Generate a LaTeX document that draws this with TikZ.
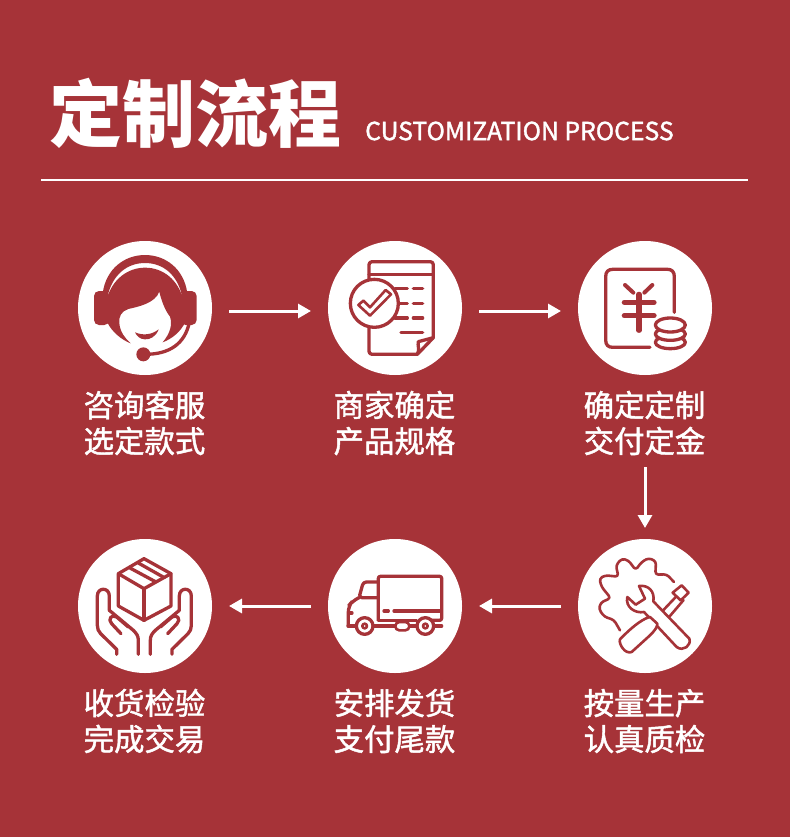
\documentclass[tikz,border=0pt]{standalone}
\usepackage{fontspec}
\setmainfont{Noto Sans CJK SC}[FakeBold=1.5]
\newfontfamily\titlefont{Noto Sans CJK SC}
\usetikzlibrary{arrows.meta}
\definecolor{bgred}{HTML}{A63338}
\tikzset{
  disc/.style={circle,fill=white,minimum size=134pt,inner sep=0pt,outer sep=0pt},
  lbl/.style={white,font=\fontsize{30.4}{36}\selectfont,align=center,inner sep=0pt},
  flow/.style={white,line width=3pt,-{Triangle[length=13pt,width=14pt]},shorten <=17pt,shorten >=17pt},
  ic/.style={draw=bgred,line width=3.3pt,line cap=round,line join=round},
  thin ic/.style={ic,line width=2.6pt}
}
\begin{document}
\begin{tikzpicture}[x=1pt,y=-1pt]
\fill[bgred] (0,0) rectangle (790,837);
\useasboundingbox (0,0) rectangle (790,837);
\node[white,anchor=center,inner sep=0pt,font=\titlefont\bfseries\fontsize{73}{73}\selectfont] (title) at (195,113) {定制流程};
\node[white,anchor=west,inner sep=0pt,font=\fontsize{24.75}{25}\selectfont] (sub) at (365,131) {CUSTOMIZATION PROCESS};
\coordinate (ruleL) at (41,180);
\coordinate (ruleR) at (748,180);
\draw[white,line width=1.3pt] (ruleL) -- (ruleR);

\node[disc] (c1) at (145,308) {};
\node[disc] (c2) at (395,308) {};
\node[disc] (c3) at (645,308) {};
\node[disc] (c4) at (145,606) {};
\node[disc] (c5) at (395,606) {};
\node[disc] (c6) at (645,606) {};

\node[lbl] (t1) at (144.5,423) {咨询客服\\选定款式};
\node[lbl] (t2) at (394.5,423) {商家确定\\产品规格};
\node[lbl] (t3) at (644.5,423) {确定定制\\交付定金};
\node[lbl] (t4) at (144.5,721) {收货检验\\完成交易};
\node[lbl] (t5) at (394.5,721) {安排发货\\支付尾款};
\node[lbl] (t6) at (644.5,721) {按量生产\\认真质检};

\draw[flow] ([yshift=-3pt]c1.east) -- ([yshift=-3pt]c2.west);
\draw[flow] ([yshift=-3pt]c2.east) -- ([yshift=-3pt]c3.west);
\draw[flow,shorten <=92pt,shorten >=11pt] (c3.south) -- (c6.north);
\draw[flow] (c6.west) -- (c5.east);
\draw[flow] (c5.west) -- (c4.east);

% icon 1 headset
\begin{scope}[shift={(70,235)},x=0.33333pt,y=-0.33333pt]
\fill[bgred] (98,175) .. controls (108,100) and (165,60) .. (225,60) .. controls (285,60) and (342,100) .. (352,175) -- (336,182) .. controls (322,120) and (280,84) .. (225,84) .. controls (170,84) and (128,120) .. (113,182) -- cycle;
\fill[bgred] (110,195) .. controls (125,132) and (175,98) .. (225,98) .. controls (280,98) and (325,135) .. (340,195) -- (345,262) .. controls (333,290) and (305,312) .. (278,322) .. controls (300,295) and (308,270) .. (300,245) .. controls (285,225) and (275,200) .. (268,170) .. controls (255,205) and (205,215) .. (175,222) .. controls (155,228) and (145,245) .. (148,265) .. controls (150,290) and (165,310) .. (182,325) .. controls (155,315) and (125,290) .. (112,262) -- cycle;
\fill[bgred,rounded corners=5pt] (72,168) -- (118,168) -- (118,270) -- (72,270) -- cycle;
\fill[bgred,rounded corners=5pt] (332,168) -- (380,168) -- (380,270) -- (332,270) -- cycle;
\draw[bgred,line width=3.3pt] (358,262) .. controls (345,325) and (300,358) .. (225,358);
\fill[bgred] (220,358) circle (21);
\fill[bgred] (195,292) .. controls (218,302) and (245,300) .. (266,283) .. controls (258,305) and (240,314) .. (225,313) .. controls (210,313) and (200,303) .. (195,292) -- cycle;
\end{scope}

% icon 2 document
\begin{scope}[shift={(320,235)},x=0.33333pt,y=-0.33333pt]
\draw[ic,rounded corners=3pt] (340,308) -- (340,80) -- (147,80) -- (147,358) -- (292,358);
\draw[ic] (147,118) -- (340,118);
\draw[ic] (340,308) -- (292,358);
\draw[ic] (292,358) .. controls (300,345) and (292,330) .. (295,320) -- (340,308);
\foreach \yy/\xa in {161/225,205/240,249/225} {
  \draw[ic] (\xa,\yy) -- (262,\yy);
  \draw[ic] (280,\yy) -- (308,\yy);
}
\draw[ic] (243,293) -- (308,293);
\draw[ic,fill=white] (163,205) circle (72);
\draw[thin ic] (115,210) -- (130,197) -- (150,217) -- (197,165) -- (213,178) -- (150,242) -- cycle;
\end{scope}

% icon 3 yen
\begin{scope}[shift={(570,235)},x=0.33333pt,y=-0.33333pt]
\draw[ic] (313,232) -- (313,125) .. controls (313,110) and (305,103) .. (293,103) -- (128,103) .. controls (115,103) and (107,110) .. (107,125) -- (107,315) .. controls (107,330) and (115,337) .. (128,337) -- (240,337);
\draw[ic,line width=4pt] (165,150) -- (190,173);
\draw[ic,line width=4pt] (247,150) -- (223,173);
\draw[ic,line width=5.2pt] (163,202) -- (252,202);
\draw[ic,line width=5.2pt] (163,242) -- (252,242);
\draw[ic,line width=5.2pt] (207,178) -- (207,286);
\draw[ic,fill=white] (301,322) ellipse [x radius=45,y radius=19];
\draw[ic,fill=white] (301,297) ellipse [x radius=45,y radius=19];
\draw[ic,fill=white] (301,270) ellipse [x radius=45,y radius=21];
\end{scope}

% icon 4 box in hands
\begin{scope}[shift={(70,532)},x=0.33333pt,y=-0.33333pt]
\draw[ic] (222,80) -- (303,125) -- (303,222) -- (222,265) -- (145,222) -- (145,125) -- cycle;
\draw[ic] (145,125) -- (222,170) -- (303,125);
\draw[ic] (222,170) -- (222,265);
\draw[ic] (180,108) -- (258,150);
\draw[ic] (205,93) -- (283,137);
\foreach \sx/\off in {1/0,-1/446} {
\begin{scope}[shift={(\off,0)},xscale=\sx]
\draw[ic] (140,367) -- (140,352) -- (92,305) .. controls (85,298) and (82,290) .. (82,280) -- (82,192) .. controls (82,165) and (118,165) .. (118,192) -- (118,235) -- (190,295) .. controls (200,305) and (205,312) .. (205,325) -- (205,367);
\draw[ic] (153,305) -- (125,275) .. controls (112,262) and (125,245) .. (140,255) -- (175,285);
\end{scope}
}
\end{scope}

% icon 5 truck
\begin{scope}[shift={(320,532)},x=0.33333pt,y=-0.33333pt]
\draw[ic,rounded corners=2pt] (175,265) -- (175,133) -- (365,133) -- (365,265) -- (305,265);
\draw[ic] (175,265) -- (290,265);
\draw[ic] (222,237) -- (360,237);
\draw[ic] (192,237) -- (205,237);
\draw[ic,rounded corners=3pt] (172,150) -- (130,150) -- (117,197) -- (172,197);
\draw[ic,rounded corners=6pt] (117,197) -- (98,207) -- (85,222) -- (85,282);
\draw[ic] (84,282) -- (108,282);
\draw[ic] (160,282) -- (226,282);
\draw[ic] (267,282) -- (290,282);
\draw[ic] (343,282) -- (365,282);
\draw[ic] (88,243) -- (96,243);
\draw[ic,fill=white] (134,282) circle (25);
\draw[ic,fill=white] (316,282) circle (25);
\draw[thin ic] (134,282) circle (7);
\draw[thin ic] (316,282) circle (7);
\draw[thin ic,fill=white,rounded corners=4pt] (226,270) rectangle (268,295);
\end{scope}

% icon 6 tools
\begin{scope}[shift={(570,532)},x=0.33333pt,y=-0.33333pt]
\draw[thin ic,rounded corners=3pt] (150,295) -- (132,264) -- (103,254) -- (87,232) -- (92,212) -- (122,198) -- (95,165) -- (88,140) -- (106,130) -- (145,134) -- (138,100) -- (155,80) -- (175,85) -- (197,114) -- (215,90) -- (236,78) -- (258,88) -- (256,128) -- (290,127) -- (312,150);
\draw[thin ic,fill=white] (270,245) -- (322,190) -- (340,205) -- (293,260) -- cycle;
\draw[thin ic,fill=white] (308,182) -- (335,160) -- (356,182) -- (332,205) -- cycle;
\draw[thin ic,fill=white] (207,162) .. controls (235,158) and (255,178) .. (250,208) -- (358,320) .. controls (365,340) and (340,360) .. (320,345) -- (222,240) .. controls (195,245) and (165,225) .. (172,195) -- (197,218) -- (225,200) -- cycle;
\draw[thin ic,fill=white] (240,255) .. controls (225,258) and (195,275) .. (150,322) .. controls (145,335) and (165,368) .. (185,360) -- (240,310) .. controls (255,295) and (262,285) .. (262,275) -- cycle;
\end{scope}
\end{tikzpicture}
\end{document}
